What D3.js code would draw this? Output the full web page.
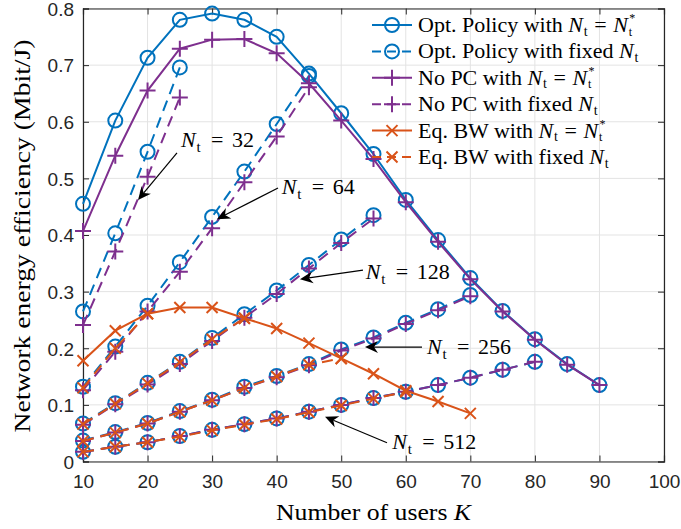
<!DOCTYPE html>
<html>
<head>
<meta charset="utf-8">
<script src="https://cdn.jsdelivr.net/npm/d3@7"></script>
<style>
  body { margin: 0; background: #fff; }
  svg { display: block; }
</style>
</head>
<body>
<script>
// data
var K = [10, 15, 20, 25, 30, 35, 40, 45, 50, 55, 60, 65, 70, 75, 80, 85, 90];

var optStar  = [0.455, 0.602, 0.713, 0.780, 0.791, 0.780, 0.750, 0.685, 0.615, 0.543, 0.462, 0.391, 0.324, 0.266, 0.216, 0.172, 0.135];
var noPcStar = [0.407, 0.540, 0.655, 0.729, 0.745, 0.746, 0.721, 0.668, 0.602, 0.534, 0.458, 0.388, 0.322, 0.265, 0.215, 0.171, 0.135];
var eqStar   = [0.178, 0.231, 0.261, 0.272, 0.272, 0.253, 0.235, 0.209, 0.182, 0.155, 0.125, 0.106, 0.085];

// fixed Nt curves, each starts at K = 10
var optFixed = {
  32:  [0.265, 0.403, 0.547, 0.696],
  64:  [0.132, 0.203, 0.275, 0.352, 0.432, 0.512, 0.596, 0.681],
  128: [0.067, 0.103, 0.139, 0.176, 0.218, 0.260, 0.302, 0.347, 0.392, 0.435],
  256: [0.037, 0.052, 0.068, 0.089, 0.109, 0.132, 0.151, 0.172, 0.198, 0.219, 0.245, 0.269, 0.294],
  512: [0.017, 0.026, 0.034, 0.045, 0.056, 0.066, 0.076, 0.088, 0.100, 0.112, 0.123, 0.135, 0.148, 0.162, 0.176]
};
var noPcFixed = {
  32:  [0.241, 0.371, 0.503, 0.643],
  64:  [0.126, 0.194, 0.265, 0.335, 0.412, 0.493, 0.574, 0.661],
  128: [0.065, 0.101, 0.136, 0.172, 0.213, 0.254, 0.296, 0.341, 0.386, 0.429],
  256: [0.036, 0.051, 0.067, 0.088, 0.108, 0.130, 0.149, 0.170, 0.196, 0.217, 0.243, 0.267, 0.292],
  512: [0.017, 0.026, 0.034, 0.045, 0.056, 0.066, 0.076, 0.088, 0.100, 0.112, 0.123, 0.135, 0.148, 0.162, 0.176]
};
var eqFixed = {
  64:  [0.130, 0.200, 0.261],
  128: [0.066, 0.102, 0.138, 0.175, 0.216, 0.253],
  256: [0.036, 0.051, 0.067, 0.088, 0.108, 0.130, 0.150, 0.171, 0.182],
  512: [0.017, 0.026, 0.034, 0.044, 0.055, 0.065, 0.075, 0.087, 0.099, 0.111, 0.123]
};

var xTicks = [10, 20, 30, 40, 50, 60, 70, 80, 90, 100];
var yTicks = [0, 0.1, 0.2, 0.3, 0.4, 0.5, 0.6, 0.7, 0.8];

var legendLabels = [
  ["Opt. Policy with", "star"],
  ["Opt. Policy with fixed", "fixed"],
  ["No PC with", "star"],
  ["No PC with fixed", "fixed"],
  ["Eq. BW with", "star"],
  ["Eq. BW with fixed", "fixed"]
];

// arrow annotations in data units: label, tail, tip, text anchor
var notes = [
  {n: "32",  tail: [24.56, 0.545], tip: [18.52, 0.462], text: [25.2, 0.556]},
  {n: "64",  tail: [40.21, 0.483], tip: [30.76, 0.428], text: [40.8, 0.473]},
  {n: "128", tail: [53.37, 0.338], tip: [43.61, 0.322], text: [53.8, 0.322]},
  {n: "256", tail: [62.51, 0.202], tip: [53.68, 0.202], text: [63.3, 0.190]},
  {n: "512", tail: [57.09, 0.033], tip: [47.49, 0.079], text: [57.9, 0.022]}
];

var blue = "#0072BD", orange = "#D95319", purple = "#7E2F8E";

var W = 681, H = 529;
var margin = {top: 8.5, right: 17, bottom: 67.5, left: 83};

var svg = d3.select("body").append("svg")
    .attr("width", W)
    .attr("height", H);

var x = d3.scaleLinear().domain([10, 100]).range([margin.left, W - margin.right]);
var y = d3.scaleLinear().domain([0, 0.8]).range([H - margin.bottom, margin.top]);

// grid
var grid = svg.append("g").attr("stroke", "#e3e3e3").attr("stroke-width", 1);
grid.selectAll("line.vx").data(xTicks).enter().append("line")
    .attr("x1", function(d){ return x(d); }).attr("x2", function(d){ return x(d); })
    .attr("y1", y(0)).attr("y2", y(0.8));
grid.selectAll("line.hy").data(yTicks).enter().append("line")
    .attr("y1", function(d){ return y(d); }).attr("y2", function(d){ return y(d); })
    .attr("x1", x(10)).attr("x2", x(100));

// axes
var axisColor = "#262626";
var gx = svg.append("g").attr("transform", "translate(0," + y(0) + ")")
    .call(d3.axisBottom(x).tickValues(xTicks).tickSize(-6).tickPadding(12).tickFormat(d3.format("d")));
var gxTop = svg.append("g").attr("transform", "translate(0," + y(0.8) + ")")
    .call(d3.axisTop(x).tickValues(xTicks).tickSize(-6).tickFormat(""));
var gy = svg.append("g").attr("transform", "translate(" + x(10) + ",0)")
    .call(d3.axisLeft(y).tickValues(yTicks).tickSize(-6).tickPadding(9).tickFormat(function(d){ return d === 0 ? "0" : d3.format(".1f")(d); }));
var gyRight = svg.append("g").attr("transform", "translate(" + x(100) + ",0)")
    .call(d3.axisRight(y).tickValues(yTicks).tickSize(-6).tickFormat(""));

[gx, gxTop, gy, gyRight].forEach(function(g){
  g.select(".domain").attr("stroke", axisColor).attr("stroke-width", 1.2);
  g.selectAll(".tick line").attr("stroke", axisColor).attr("stroke-width", 1);
  g.selectAll(".tick text").attr("fill", axisColor)
    .style("font-family", "'Liberation Sans', Arial, sans-serif").style("font-size", "19px");
});
gx.selectAll(".tick text").attr("dy", "0.75em");
gy.selectAll(".tick text").attr("dy", "0.36em");

// markers
function drawMarker(g, kind, cx, cy, color) {
  if (kind === "o") {
    g.append("circle").attr("cx", cx).attr("cy", cy).attr("r", 7)
      .attr("fill", "none").attr("stroke", color).attr("stroke-width", 2);
  } else if (kind === "+") {
    g.append("path").attr("d", "M" + (cx - 8) + "," + cy + "H" + (cx + 8) + "M" + cx + "," + (cy - 8) + "V" + (cy + 8))
      .attr("stroke", color).attr("stroke-width", 2).attr("fill", "none");
  } else {
    var s = 5.5;
    g.append("path").attr("d", "M" + (cx - s) + "," + (cy - s) + "L" + (cx + s) + "," + (cy + s) + "M" + (cx - s) + "," + (cy + s) + "L" + (cx + s) + "," + (cy - s))
      .attr("stroke", color).attr("stroke-width", 2).attr("fill", "none");
  }
}

var line = d3.line().x(function(d){ return x(d.k); }).y(function(d){ return y(d.v); });

function series(vals, color, dashed, marker) {
  var pts = vals.map(function(v, i){ return {k: K[i], v: v}; });
  var g = svg.append("g");
  g.append("path").datum(pts).attr("d", line)
    .attr("fill", "none").attr("stroke", color).attr("stroke-width", 2)
    .attr("stroke-dasharray", dashed ? "11,7" : null);
  pts.forEach(function(p){ drawMarker(g, marker, x(p.k), y(p.v), color); });
}

series(optStar, blue, false, "o");
[32, 64, 128, 256, 512].forEach(function(n){ series(optFixed[n], blue, true, "o"); });
series(noPcStar, purple, false, "+");
[32, 64, 128, 256, 512].forEach(function(n){ series(noPcFixed[n], purple, true, "+"); });
series(eqStar, orange, false, "x");
[64, 128, 256, 512].forEach(function(n){ series(eqFixed[n], orange, true, "x"); });

var serif = "'Liberation Serif', 'Times New Roman', serif";

// annotations: N_t = value, pieces placed like the LaTeX rendering
var ann = svg.append("g");
notes.forEach(function(a){
  var x1 = x(a.tail[0]), y1 = y(a.tail[1]), x2 = x(a.tip[0]), y2 = y(a.tip[1]);
  var ang = Math.atan2(y2 - y1, x2 - x1);
  var L = 13, Wd = 6, back = 9;
  var bx = x2 - L * Math.cos(ang), by = y2 - L * Math.sin(ang);
  var pn = [x2 - back * Math.cos(ang), y2 - back * Math.sin(ang)];
  ann.append("line").attr("x1", x1).attr("y1", y1).attr("x2", pn[0]).attr("y2", pn[1])
    .attr("stroke", "#000").attr("stroke-width", 1.2);
  var p1 = [bx + Wd * Math.sin(ang), by - Wd * Math.cos(ang)];
  var p2 = [bx - Wd * Math.sin(ang), by + Wd * Math.cos(ang)];
  ann.append("path").attr("d", "M" + x2 + "," + y2 + "L" + p1 + "L" + pn + "L" + p2 + "Z").attr("fill", "#000");

  var tx = x(a.text[0]), ty = y(a.text[1]);
  var t = ann.append("text").attr("y", ty)
    .style("font-family", serif).style("font-size", "22px").attr("fill", "#000");
  t.append("tspan").attr("x", tx).style("font-style", "italic").text("N");
  t.append("tspan").attr("x", tx + 15.5).attr("dy", 5).style("font-size", "15px").text("t");
  t.append("tspan").attr("x", tx + 30).attr("dy", -5).text("=");
  t.append("tspan").attr("x", tx + 51).text(a.n);
});

// legend
var leg = svg.append("g");
var legColors = [blue, blue, purple, purple, orange, orange];
var legMarkers = ["o", "o", "+", "+", "x", "x"];
legendLabels.forEach(function(d, i){
  var ly = 25 + i * 26.4;
  leg.append("line").attr("x1", 372).attr("x2", 412).attr("y1", ly).attr("y2", ly)
    .attr("stroke", legColors[i]).attr("stroke-width", 2)
    .attr("stroke-dasharray", d[1] === "fixed" ? "9,6" : null);
  drawMarker(leg, legMarkers[i], 392, ly, legColors[i]);
  var t = leg.append("text").attr("y", ly + 7)
    .style("font-family", serif).style("font-size", "22px").attr("fill", "#000");
  var main = t.append("tspan").attr("x", 418).text(d[0]);
  var nx = 418 + main.node().getComputedTextLength() + 5.5;
  t.append("tspan").attr("x", nx).style("font-style", "italic").text("N");
  t.append("tspan").attr("x", nx + 15.5).attr("dy", 3.5).style("font-size", "14px").text("t");
  if (d[1] === "star") {
    t.append("tspan").attr("x", nx + 26).attr("dy", -3.5).text("=");
    t.append("tspan").attr("x", nx + 45).style("font-style", "italic").text("N");
    t.append("tspan").attr("x", nx + 60.5).attr("dy", 3.5).style("font-size", "12px").text("t");
    t.append("tspan").attr("x", nx + 61).attr("dy", -13.5).style("font-size", "12px").text("*");
  }
});

// axis labels
svg.append("text").attr("x", (x(10) + x(100)) / 2).attr("y", 520)
  .attr("text-anchor", "middle").style("font-family", serif).style("font-size", "23px")
  .attr("textLength", 195).attr("lengthAdjust", "spacingAndGlyphs")
  .call(function(t){
    t.append("tspan").text("Number of users ");
    t.append("tspan").style("font-style", "italic").text("K");
  });
svg.append("text").attr("transform", "translate(30," + ((y(0) + y(0.8)) / 2 + 1) + ") rotate(-90)")
  .attr("text-anchor", "middle").style("font-family", serif).style("font-size", "23px")
  .attr("textLength", 393).attr("lengthAdjust", "spacingAndGlyphs")
  .text("Network energy efficiency (Mbit/J)");
</script>
</body>
</html>
